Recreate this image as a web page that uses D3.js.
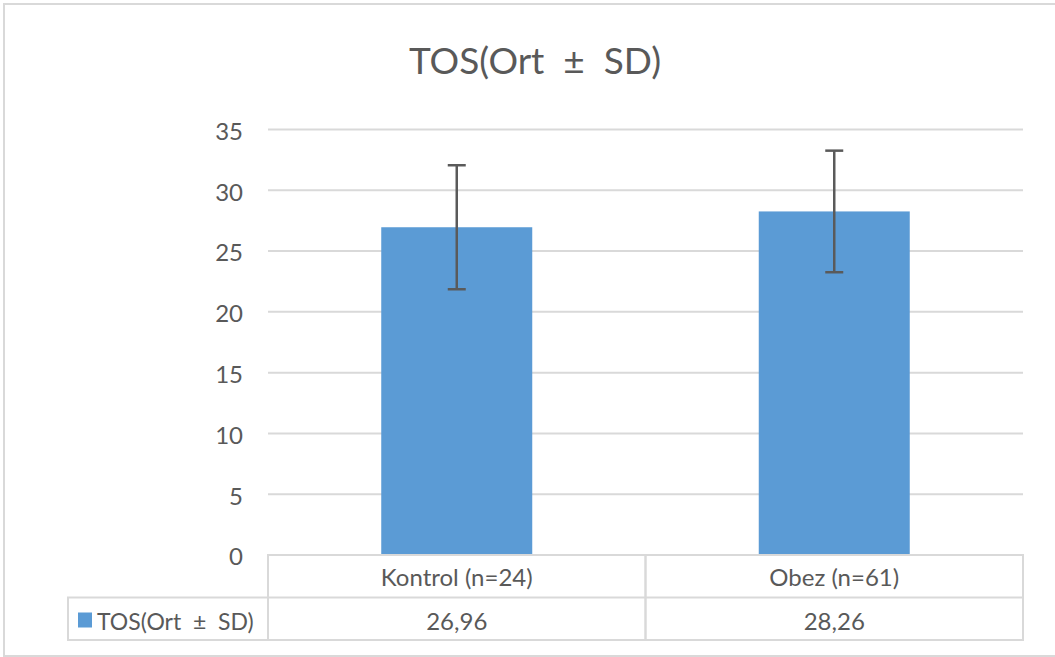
<!DOCTYPE html>
<html>
<head>
<meta charset="utf-8">
<script src="https://cdn.jsdelivr.net/npm/d3@7"></script>
<style>
  html, body { margin: 0; padding: 0; background: #fff; }
  svg { display: block; font-family: Lato, "Noto Sans", sans-serif; }
  text { white-space: pre; fill: #595959; }
</style>
</head>
<body>
<div id="chart"></div>
<script>
(function() {
    'use strict';

    // Data
    var chartTitle = 'TOS(Ort  ±  SD)';
    var seriesName = 'TOS(Ort  ±  SD)';
    var categories = ['Kontrol (n=24)', 'Obez (n=61)'];
    var means = [26.96, 28.26];
    var sds = [5.1, 5.0];
    var yTicks = [0, 5, 10, 15, 20, 25, 30, 35];

    var width = 1055, height = 657;
    var plot = { left: 268, right: 1023, top: 129.5, bottom: 555 };
    var rowH = 42.5;
    var legendLeft = 68;

    var barColor = '#5B9BD5';
    var gridColor = '#D9D9D9';
    var trTR = d3.formatLocale({ decimal: ',', thousands: '.', grouping: [3], currency: ['', ''] });
    var fmt = trTR.format('.2f');

    var svg = d3.select('#chart').append('svg')
        .attr('width', width)
        .attr('height', height);

    // chart border
    svg.append('rect')
        .attr('x', 4).attr('y', 4)
        .attr('width', width + 10).attr('height', 652)
        .attr('fill', '#fff')
        .attr('stroke', gridColor)
        .attr('stroke-width', 2);

    // Scales
    var y = d3.scaleLinear().domain([0, 35]).range([plot.bottom, plot.top]);
    var cols = d3.scaleBand().domain(categories).range([plot.left, plot.right]).padding(0);
    var bars = d3.scaleBand().domain(categories).range([plot.left, plot.right])
        .paddingInner(0.6).paddingOuter(0.3);

    // Title
    svg.append('text')
        .attr('x', 535)
        .attr('y', 74)
        .attr('text-anchor', 'middle')
        .style('font-size', '37px')
        .text(chartTitle);

    // Gridlines
    svg.append('g')
        .selectAll('line')
        .data(yTicks.filter(function(d) { return d > 0; }))
        .join('line')
        .attr('x1', plot.left).attr('x2', plot.right)
        .attr('y1', function(d) { return y(d); })
        .attr('y2', function(d) { return y(d); })
        .attr('stroke', gridColor)
        .attr('stroke-width', 2);

    // Y tick labels
    svg.append('g')
        .selectAll('text')
        .data(yTicks)
        .join('text')
        .attr('x', 243)
        .attr('y', function(d) { return y(d) + 2; })
        .attr('dy', '0.35em')
        .attr('text-anchor', 'end')
        .style('font-size', '24px')
        .text(function(d) { return d; });

    // Bars
    svg.append('g')
        .selectAll('rect')
        .data(categories)
        .join('rect')
        .attr('x', function(d) { return bars(d); })
        .attr('y', function(d, i) { return y(means[i]); })
        .attr('width', bars.bandwidth())
        .attr('height', function(d, i) { return y(0) - y(means[i]); })
        .attr('fill', barColor);

    // Error bars
    var err = svg.append('g')
        .selectAll('g')
        .data(categories)
        .join('g')
        .attr('stroke', '#5a5a5a')
        .attr('stroke-width', 2.5);
    var cx = function(d) { return bars(d) + bars.bandwidth() / 2; };
    err.append('line')
        .attr('x1', cx).attr('x2', cx)
        .attr('y1', function(d, i) { return y(means[i] + sds[i]); })
        .attr('y2', function(d, i) { return y(means[i] - sds[i]); });
    err.selectAll('line.cap')
        .data(function(d, i) { return [{ d: d, v: means[i] + sds[i] }, { d: d, v: means[i] - sds[i] }]; })
        .join('line')
        .attr('class', 'cap')
        .attr('x1', function(o) { return cx(o.d) - 9; })
        .attr('x2', function(o) { return cx(o.d) + 9; })
        .attr('y1', function(o) { return y(o.v); })
        .attr('y2', function(o) { return y(o.v); });

    // Data table
    var table = svg.append('g')
        .attr('fill', 'none')
        .attr('stroke', gridColor)
        .attr('stroke-width', 2);
    // category row + value row cells
    categories.forEach(function(c) {
        table.append('rect')
            .attr('x', cols(c)).attr('y', plot.bottom)
            .attr('width', cols.bandwidth()).attr('height', rowH * 2);
    });
    table.append('line')
        .attr('x1', plot.left).attr('x2', plot.right)
        .attr('y1', plot.bottom + rowH).attr('y2', plot.bottom + rowH);
    // legend cell
    table.append('rect')
        .attr('x', legendLeft).attr('y', plot.bottom + rowH)
        .attr('width', plot.left - legendLeft).attr('height', rowH);

    svg.append('g')
        .selectAll('text')
        .data(categories)
        .join('text')
        .attr('x', function(d) { return cols(d) + cols.bandwidth() / 2; })
        .attr('y', plot.bottom + 31)
        .attr('text-anchor', 'middle')
        .style('font-size', '24px')
        .text(function(d) { return d; });

    svg.append('g')
        .selectAll('text')
        .data(categories)
        .join('text')
        .attr('x', function(d) { return cols(d) + cols.bandwidth() / 2; })
        .attr('y', plot.bottom + rowH + 32)
        .attr('text-anchor', 'middle')
        .style('font-size', '24px')
        .text(function(d, i) { return fmt(means[i]); });

    // legend key
    svg.append('rect')
        .attr('x', 78).attr('y', plot.bottom + rowH + 15)
        .attr('width', 14).attr('height', 15)
        .attr('fill', barColor);
    svg.append('text')
        .attr('x', 97)
        .attr('y', plot.bottom + rowH + 32)
        .style('font-size', '23px')
        .text(seriesName);
})();
</script>
</body>
</html>
